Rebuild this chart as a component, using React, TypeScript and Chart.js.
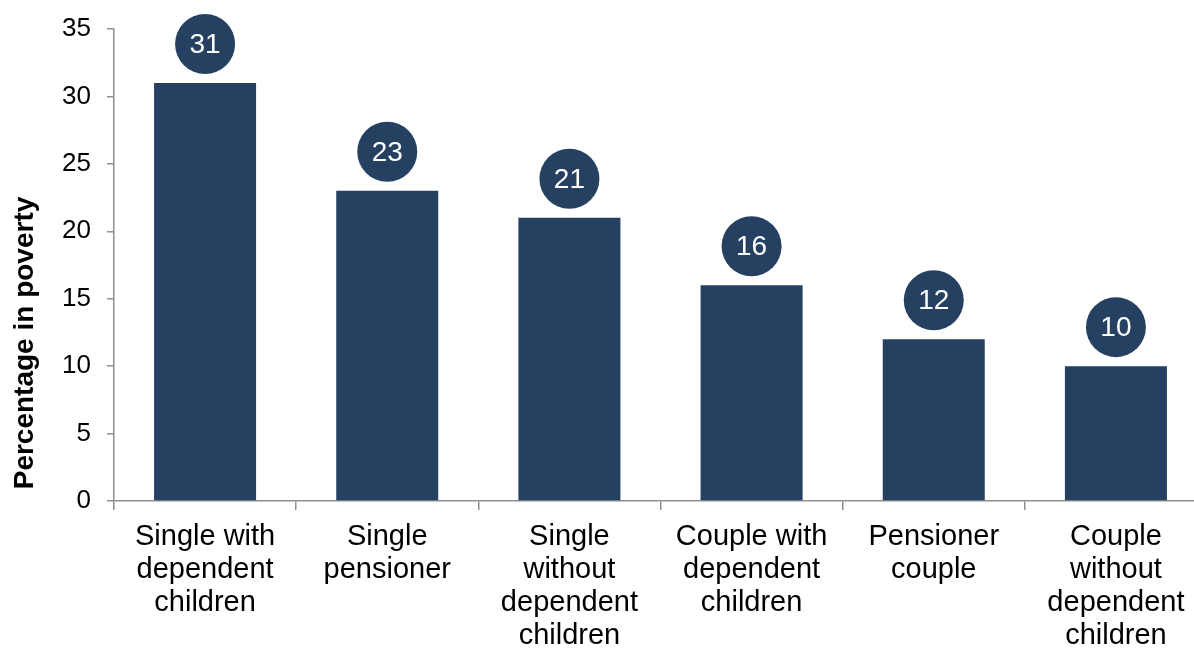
import React, { useEffect, useRef } from 'react';
import { Chart, registerables } from 'chart.js';

Chart.register(...registerables);

const categories: string[][] = [
  ['Single with', 'dependent', 'children'],
  ['Single', 'pensioner'],
  ['Single', 'without', 'dependent', 'children'],
  ['Couple with', 'dependent', 'children'],
  ['Pensioner', 'couple'],
  ['Couple', 'without', 'dependent', 'children'],
];
const values: number[] = [31, 23, 21, 16, 12, 10];
const yMin = 0;
const yMax = 35;
const yStep = 5;
const yTitle = 'Percentage in poverty';

const BAR_COLOR = '#264062';
const AXIS_COLOR = '#8f8f8f';
const FONT = '"Liberation Sans", Arial, Helvetica, sans-serif';

const bubblePlugin = {
  id: 'bubbles',
  afterDatasetsDraw(chart: any) {
    const meta = chart.getDatasetMeta(0);
    const ctx = chart.ctx;
    ctx.save();
    meta.data.forEach((bar: any, i: number) => {
      const cx = bar.x;
      const cy = bar.y - 39;
      ctx.beginPath();
      ctx.arc(cx, cy, 30, 0, Math.PI * 2);
      ctx.fillStyle = BAR_COLOR;
      ctx.fill();
      ctx.fillStyle = '#ffffff';
      ctx.font = `28px ${FONT}`;
      ctx.textAlign = 'center';
      ctx.textBaseline = 'middle';
      ctx.fillText(String(values[i]), cx, cy + 1);
    });
    ctx.restore();
  },
};

const titlePlugin = {
  id: 'yTitle',
  afterDraw(chart: any) {
    const ctx = chart.ctx;
    ctx.save();
    ctx.translate(25, 343);
    ctx.rotate(-Math.PI / 2);
    ctx.fillStyle = '#000000';
    ctx.font = `bold 28px ${FONT}`;
    ctx.textAlign = 'center';
    ctx.textBaseline = 'middle';
    ctx.fillText(yTitle, 0, 0);
    ctx.restore();
  },
};

export default function App() {
  const canvasRef = useRef<HTMLCanvasElement | null>(null);

  useEffect(() => {
    if (!canvasRef.current) return;
    const chart = new Chart(canvasRef.current, {
      type: 'bar',
      data: {
        labels: categories,
        datasets: [
          {
            data: values,
            backgroundColor: BAR_COLOR,
            borderWidth: 0,
            categoryPercentage: 1,
            barPercentage: 0.56,
          },
        ],
      },
      options: {
        animation: false,
        responsive: false,
        devicePixelRatio: 1,
        layout: { padding: { left: 0, right: 3, top: 29, bottom: 0 } },
        plugins: {
          legend: { display: false },
          tooltip: { enabled: false },
        },
        scales: {
          x: {
            grid: {
              display: true,
              offset: true,
              drawOnChartArea: false,
              drawTicks: true,
              tickLength: 9,
              color: AXIS_COLOR,
              lineWidth: 1.5,
            },
            border: { display: true, color: AXIS_COLOR, width: 1.5 },
            ticks: {
              color: '#000000',
              font: { family: FONT, size: 29, lineHeight: 33 / 29 },
              padding: 10,
              maxRotation: 0,
              minRotation: 0,
              autoSkip: false,
            },
            afterFit(scale: any) {
              scale.height = 147;
            },
          },
          y: {
            min: yMin,
            max: yMax,
            grid: {
              display: true,
              drawOnChartArea: false,
              drawTicks: true,
              tickLength: 7,
              color: AXIS_COLOR,
              lineWidth: 1.5,
            },
            border: { display: true, color: AXIS_COLOR, width: 1.5 },
            ticks: {
              stepSize: yStep,
              color: '#000000',
              font: { family: FONT, size: 26 },
              padding: 16,
            },
            afterFit(scale: any) {
              scale.width = 114;
              scale.paddingTop = 0;
              scale.paddingBottom = 0;
            },
          },
        },
      },
      plugins: [bubblePlugin, titlePlugin],
    });
    return () => chart.destroy();
  }, []);

  return (
    <div
      style={{
        position: 'fixed',
        left: 0,
        top: 0,
        width: 1194,
        height: 648,
        overflow: 'hidden',
        background: '#ffffff',
      }}
    >
      <canvas ref={canvasRef} width={1210} height={648} style={{ display: 'block' }} />
    </div>
  );
}
